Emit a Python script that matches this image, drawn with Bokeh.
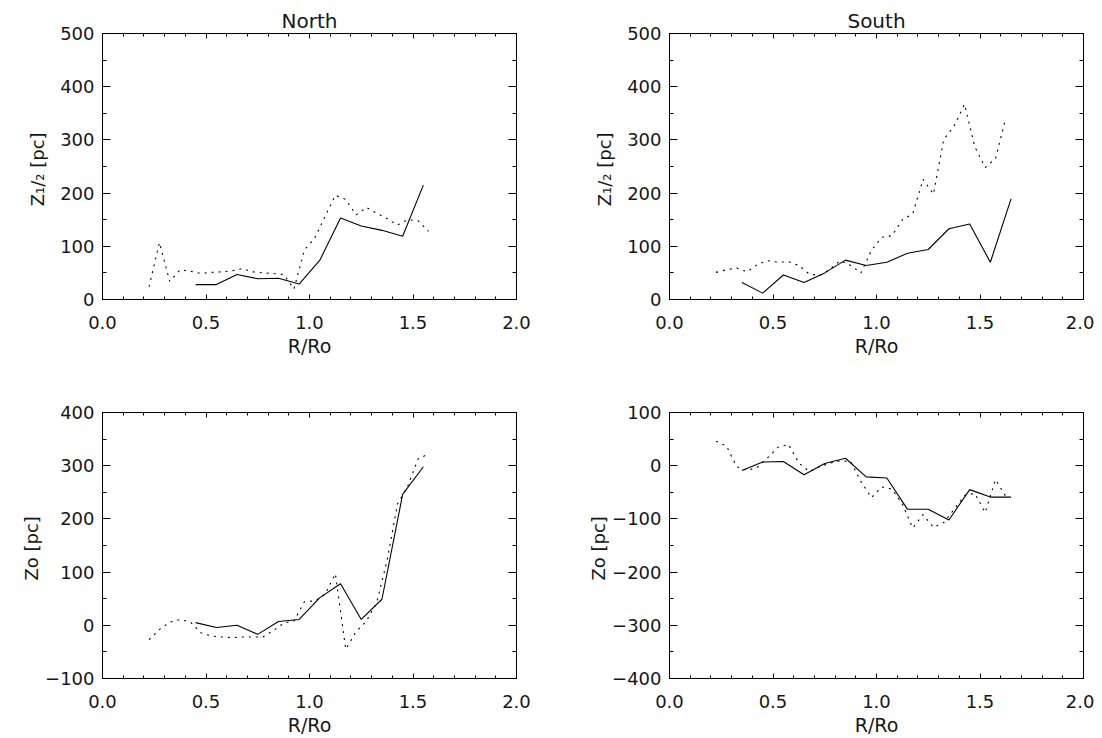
from bokeh.plotting import figure
from bokeh.models import Range1d, LinearAxis, FixedTicker
from bokeh.layouts import column, row
from bokeh.embed import file_html
from bokeh.resources import INLINE

# ---------------- data ----------------
# solid lines
x_north_solid = [0.45, 0.55, 0.65, 0.75, 0.85, 0.95, 1.05, 1.15, 1.25, 1.35, 1.45, 1.55]
x_south_solid = [0.35, 0.45, 0.55, 0.65, 0.75, 0.85, 0.95, 1.05, 1.15, 1.25, 1.35, 1.45, 1.55, 1.65]
# dotted lines
x_north_dot = [0.225, 0.275, 0.325, 0.375, 0.425, 0.475, 0.525, 0.575, 0.625, 0.675,
               0.725, 0.775, 0.825, 0.875, 0.925, 0.975, 1.025, 1.075, 1.125, 1.175,
               1.225, 1.275, 1.325, 1.375, 1.425, 1.475, 1.525, 1.575]
x_south_dot = [0.225, 0.275, 0.325, 0.375, 0.425, 0.475, 0.525, 0.575, 0.625, 0.675,
               0.725, 0.775, 0.825, 0.875, 0.925, 0.975, 1.025, 1.075, 1.125, 1.175,
               1.225, 1.275, 1.325, 1.375, 1.425, 1.475, 1.525, 1.575, 1.625]

z12_north_solid = [28, 28, 47, 39, 40, 29, 74, 153, 138, 130, 119, 215]
z12_north_dot = [24, 107, 34, 56, 53, 49, 51, 52, 54, 58, 52, 50, 49, 47, 20, 93, 115, 156,
                 196, 188, 159, 173, 162, 152, 140, 150, 148, 128]
z12_south_solid = [32, 12, 46, 32, 50, 74, 64, 70, 87, 94, 133, 142, 70, 189]
z12_south_dot = [51, 56, 59, 52, 66, 73, 70, 71, 64, 48, 45, 57, 73, 64, 50, 92, 117, 120,
                 150, 161, 226, 198, 301, 326, 367, 287, 248, 265, 342]

zo_north_solid = [5, -4, 0, -17, 7, 11, 52, 78, 11, 49, 246, 298]
zo_north_dot = [-27, -8, 6, 11, 6, -14, -20, -22, -23, -22, -22, -22, -10, 4, 8, 44, 46, 58,
                97, -45, -12, 8, 43, 122, 228, 262, 313, 322]
zo_south_solid = [-9, 7, 8, -17, 4, 14, -21, -23, -82, -82, -102, -45, -59, -59]
zo_south_dot = [46, 37, -2, -9, -3, 15, 35, 40, 5, -11, -2, 5, 9, 8, -30, -60, -40, -44,
                -72, -117, -92, -116, -107, -82, -56, -52, -88, -26, -58]

x_ticks = [0.0, 0.5, 1.0, 1.5, 2.0]
x_minor = [round(0.1 * i, 1) for i in range(21)]
y_ticks_top = [0, 100, 200, 300, 400, 500]
y_ticks_bl = [-100, 0, 100, 200, 300, 400]
y_ticks_br = [-400, -300, -200, -100, 0, 100]

titles = ["North", "South"]
ylabel_top = "Z\u2081/\u2082  [pc]"
ylabel_bottom = "Zo  [pc]"
xlabel = "R/Ro"

FONT = "DejaVu Sans"
TXT = "#161616"


def fmt_y(v):
    s = str(abs(int(v)))
    return ("\u2212" + s) if v < 0 else s


def make_panel(xs, ys, xd, yd, yticks, title, ylabel, ylab_standoff, left, right, top, bottom):
    fw, fh = 414, 266
    p = figure(frame_width=fw, frame_height=fh, output_backend="svg", toolbar_location=None,
               x_range=Range1d(0, 2), y_range=Range1d(yticks[0], yticks[-1]),
               min_border_left=left, min_border_right=right, min_border_top=top,
               min_border_bottom=bottom, x_axis_location=None, y_axis_location=None)
    p.xgrid.visible = False
    p.ygrid.visible = False
    p.outline_line_color = "black"
    p.background_fill_color = "white"
    p.border_fill_color = "white"

    if title:
        p.title.text = title
        p.title.align = "center"
        p.title.vertical_align = "middle"
        p.title.text_font = FONT
        p.title.text_font_size = "20px"
        p.title.text_font_style = "normal"
        p.title.text_color = TXT
        p.title.standoff = 0
        p.title.offset = 0

    y_minor = list(range(yticks[0], yticks[-1] + 1, 50))
    y_over = {v: fmt_y(v) for v in yticks}
    x_over = {v: "%.1f" % v for v in x_ticks}

    for loc in ["below", "above"]:
        ax = LinearAxis(ticker=FixedTicker(ticks=x_ticks, minor_ticks=x_minor))
        ax.major_tick_in = 5
        ax.major_tick_out = 0
        ax.minor_tick_in = 3
        ax.minor_tick_out = 0
        ax.axis_line_color = "black"
        ax.major_tick_line_color = "black"
        ax.minor_tick_line_color = "black"
        if loc == "below":
            ax.major_label_overrides = x_over
            ax.major_label_text_font = FONT
            ax.major_label_text_font_size = "18px"
            ax.major_label_text_color = TXT
            ax.major_label_standoff = 16
            ax.axis_label = xlabel
            ax.axis_label_text_font = FONT
            ax.axis_label_text_font_size = "19px"
            ax.axis_label_text_font_style = "normal"
            ax.axis_label_text_color = TXT
            ax.axis_label_standoff = 3
        else:
            ax.major_label_text_font_size = "1px"
            ax.major_label_text_color = None
            ax.major_label_standoff = 0
        p.add_layout(ax, loc)

    for loc in ["left", "right"]:
        ax = LinearAxis(ticker=FixedTicker(ticks=yticks, minor_ticks=y_minor))
        ax.major_tick_in = 8
        ax.major_tick_out = 0
        ax.minor_tick_in = 4
        ax.minor_tick_out = 0
        ax.axis_line_color = "black"
        ax.major_tick_line_color = "black"
        ax.minor_tick_line_color = "black"
        if loc == "left":
            ax.major_label_overrides = y_over
            ax.major_label_text_font = FONT
            ax.major_label_text_font_size = "18px"
            ax.major_label_text_color = TXT
            ax.major_label_standoff = 8
            ax.axis_label = ylabel
            ax.axis_label_text_font = FONT
            ax.axis_label_text_font_size = "18px"
            ax.axis_label_text_font_style = "normal"
            ax.axis_label_text_color = TXT
            ax.axis_label_standoff = ylab_standoff
        else:
            ax.major_label_text_font_size = "1px"
            ax.major_label_text_color = None
            ax.major_label_standoff = 0
        p.add_layout(ax, loc)

    p.line(xs, ys, line_color="black", line_width=1.1)
    p.line(xd, yd, line_color="black", line_width=1.1, line_dash="2 5")
    return p


p1 = make_panel(x_north_solid, z12_north_solid, x_north_dot, z12_north_dot, y_ticks_top,
                titles[0], ylabel_top, 9, 102, 59, 33, 70)
p2 = make_panel(x_south_solid, z12_south_solid, x_south_dot, z12_south_dot, y_ticks_top,
                titles[1], ylabel_top, 9, 94, 11, 33, 70)
p3 = make_panel(x_north_solid, zo_north_solid, x_north_dot, zo_north_dot, y_ticks_bl,
                None, ylabel_bottom, 0, 102, 59, 43, 55)
p4 = make_panel(x_south_solid, zo_south_solid, x_south_dot, zo_south_dot, y_ticks_br,
                None, ylabel_bottom, 0, 94, 11, 43, 55)

layout = column(row(p1, p2), row(p3, p4))

open("out.html", "w").write(file_html(layout, INLINE))
